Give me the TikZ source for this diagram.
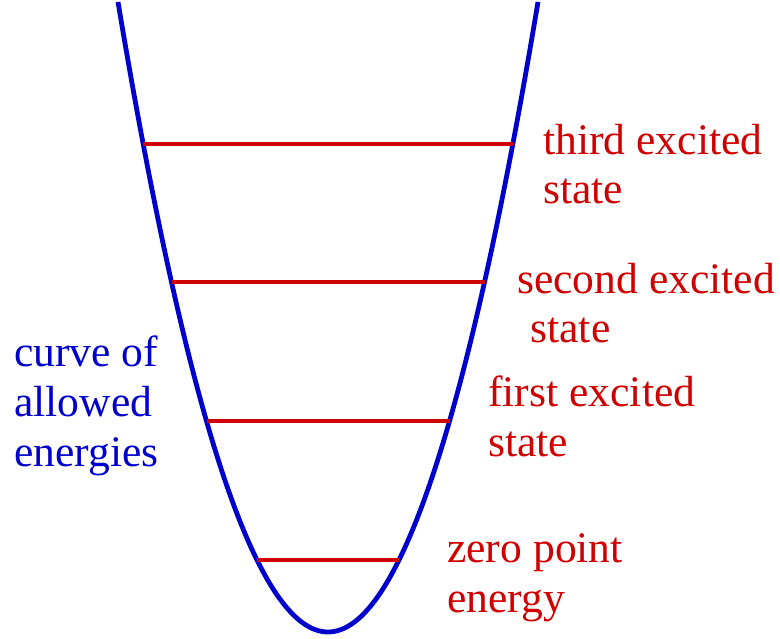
\documentclass[tikz,border=0pt]{standalone}
\usepackage{fontspec}
\setmainfont{Liberation Serif}
\usepackage{tikz}
\usetikzlibrary{positioning, calc}
\definecolor{curveblue}{RGB}{0,0,205}
\definecolor{levelred}{RGB}{208,0,0}
\tikzstyle{curve}=[line width=3.4pt, color=curveblue, line join=round]
\tikzstyle{level}=[line width=2.5pt, color=levelred]
\tikzstyle{lbl}=[anchor=base west, inner sep=0pt, align=left,
                 font=\fontsize{31}{35.5}\selectfont]

\begin{document}
\begin{tikzpicture}[x=0.025cm, y=0.025cm]
  \useasboundingbox (0,0) rectangle (780,638);
  % parabola of allowed energies
  \draw[curve] plot[domain=-210:210, samples=120, smooth]
    ({328+\x}, {6+(\x/10)*(\x/10)/0.7});
  % energy levels
  \foreach \lev/\hgt/\half in {0/78/71, 1/217/121.5, 2/356/156.5, 3/494/184.8}{
    \coordinate (l\lev) at ({328-\half}, \hgt);
    \coordinate (r\lev) at ({328+\half}, \hgt);
    \draw[level] (l\lev) -- (r\lev);
  }
  % labels (base anchor sits on the last line)
  \node[lbl, text=levelred] (third) at (543,434) {third excited\\state};
  \node[lbl, text=levelred] (second) at (517,295) {second excited\\\hspace*{0.33cm}state};
  \node[lbl, text=levelred] (first) at (488,182) {first excited\\state};
  \node[lbl, text=levelred] (zero) at (447,26) {zero point\\energy};
  \node[lbl, text=curveblue] (allowed) at (14,172) {curve of\\allowed\\energies};
\end{tikzpicture}
\end{document}
